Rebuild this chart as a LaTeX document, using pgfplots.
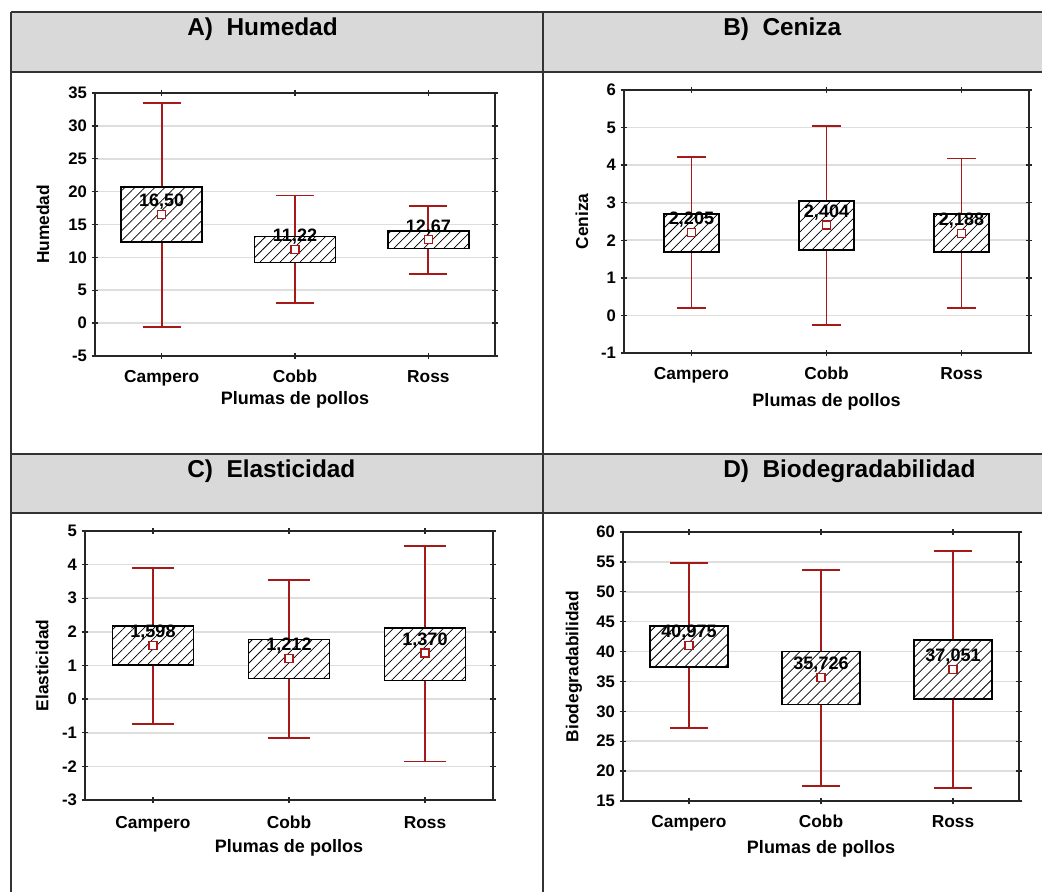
\documentclass[border=0pt]{standalone}
\usepackage{pgfplots}
\pgfplotsset{compat=1.18}
\usepackage{pgfplotstable}
\usepackage{fontspec}
\setmainfont{Liberation Sans}
\usetikzlibrary{patterns.meta}
\definecolor{whisk}{RGB}{165,25,25}
\definecolor{headgray}{RGB}{217,217,217}
\definecolor{gridgray}{RGB}{222,222,222}

% means and labels
\pgfplotstableread{
x mean label
0 16.50 16,50
1 11.22 11,22
2 12.67 12,67
}\dataA
\pgfplotstableread{
x mean label
0 2.205 2,205
1 2.404 2,404
2 2.188 2,188
}\dataB
\pgfplotstableread{
x mean label
0 1.598 1,598
1 1.212 1,212
2 1.370 1,370
}\dataC
\pgfplotstableread{
x mean label
0 40.975 40,975
1 35.726 35,726
2 37.051 37,051
}\dataD

\pgfplotsset{
  panel/.style={
    scale only axis,
    anchor=south west,
    xmin=-0.5, xmax=2.5,
    xtick={0,1,2},
    xticklabels={Campero,Cobb,Ross},
    ymajorgrids,
    grid style={gridgray, line width=1.2pt},
    axis line style={black!85, line width=1.4pt},
    tick style={black!85, line width=1pt},
    major tick length=5pt,
    tick align=center,
    /pgf/number format/assume math mode=true,
    yticklabel style={font=\fontsize{12.5}{14}\selectfont\bfseries, text=black},
    xticklabel style={font=\fontsize{13}{15}\selectfont\bfseries, text=black, anchor=base, yshift=-17.3pt},
    ylabel style={font=\fontsize{13}{15}\selectfont\bfseries, text=black, anchor=center},
    xlabel style={font=\fontsize{13.5}{15}\selectfont\bfseries, text=black, anchor=center},
    xlabel={Plumas de pollos},
  },
  boxst/.style={draw=black, line width=1.2pt, fill=white,
    postaction={pattern={Lines[angle=45,distance=5.3pt,line width=0.55pt]}, pattern color=black}},
  whst/.style={draw=whisk, line width=1.4pt, mark=none},
}
% whisker: cap-left, x, cap-right, low, high
\newcommand{\wh}[5]{%
  \addplot[whst] coordinates {(#2,#4) (#2,#5)};
  \addplot[whst] coordinates {(#1,#5) (#3,#5)};
  \addplot[whst] coordinates {(#1,#4) (#3,#4)};}
\newcommand{\means}[1]{%
  \addplot[only marks, mark=square*, mark size=3pt,
    mark options={draw=whisk, fill=white, line width=0.9pt},
    nodes near coords, point meta=explicit symbolic,
    every node near coord/.append style={font=\fontsize{13.5}{15}\selectfont\bfseries,
      text=black, anchor=center, yshift=9.5pt}]
    table[x=x, y=mean, meta=label] {#1};}
\newcommand{\boxat}[4]{\addplot[boxst] coordinates {(#1,#3) (#2,#3) (#2,#4) (#1,#4)} -- cycle;}

\begin{document}
\begin{tikzpicture}
\useasboundingbox (0,0) rectangle (781.5pt,669pt);
\begin{scope}[x=0.75pt, y=0.75pt]
% table frame
\fill[headgray] (11,880) rectangle (1042,820);
\fill[headgray] (11,438) rectangle (1042,379);
\begin{scope}[draw=black!80, line width=1.5pt]
\draw (11,880) -- (1042,880);
\draw (11,820) -- (1042,820);
\draw (11,438) -- (1042,438);
\draw (11,379) -- (1042,379);
\draw (11,880) -- (11,0);
\draw (543,880) -- (543,0);
\end{scope}
\begin{scope}[font=\fontsize{18.3}{21}\selectfont\bfseries]
\node[anchor=west, inner sep=0pt] at (187,863) {A)~~Humedad};
\node[anchor=west, inner sep=0pt] at (723,863) {B)~~Ceniza};
\node[anchor=west, inner sep=0pt] at (187,421) {C)~~Elasticidad};
\node[anchor=west, inner sep=0pt] at (723,421) {D)~~Biodegradabilidad};
\end{scope}
\end{scope}

% A
\begin{axis}[panel, at={(71.25pt,402pt)}, width=300pt, height=197.25pt,
  ymin=-5, ymax=35, ytick={-5,0,...,35},
  ylabel={Humedad},
  ylabel style={at={(axis description cs:-0.130,0.5)}},
  xlabel style={at={(axis description cs:0.5,-0.167)}}]
\wh{-0.1425}{0}{0.1425}{-0.57}{33.42}
\wh{0.8575}{1}{1.1425}{3.05}{19.41}
\wh{1.8575}{2}{2.1425}{7.43}{17.83}
\boxat{-0.304}{0.304}{12.38}{20.68}
\boxat{0.696}{1.304}{9.22}{13.19}
\boxat{1.696}{2.304}{11.36}{14.01}
\means{\dataA}
\end{axis}

% B
\begin{axis}[panel, at={(468pt,404.25pt)}, width=303.75pt, height=197.25pt,
  ymin=-1, ymax=6, ytick={-1,0,...,6},
  ylabel={Ceniza},
  ylabel style={at={(axis description cs:-0.104,0.5)}},
  xlabel style={at={(axis description cs:0.5,-0.186)}}]
\wh{-0.104}{0}{0.104}{0.205}{4.228}
\wh{0.896}{1}{1.104}{-0.247}{5.034}
\wh{1.896}{2}{2.104}{0.205}{4.175}
\boxat{-0.204}{0.204}{1.694}{2.695}
\boxat{0.796}{1.204}{1.738}{3.049}
\boxat{1.796}{2.204}{1.694}{2.695}
\means{\dataB}
\end{axis}

% C
\begin{axis}[panel, at={(63.75pt,69pt)}, width=306pt, height=201.75pt,
  ymin=-3, ymax=5, ytick={-3,-2,...,5},
  ylabel={Elasticidad},
  ylabel style={at={(axis description cs:-0.105,0.5)}},
  xlabel style={at={(axis description cs:0.5,-0.178)}},
  xticklabel style={yshift=-1.5pt}]
\wh{-0.154}{0}{0.154}{-0.747}{3.892}
\wh{0.846}{1}{1.154}{-1.152}{3.536}
\wh{1.846}{2}{2.154}{-1.855}{4.545}
\boxat{-0.298}{0.298}{1.014}{2.181}
\boxat{0.702}{1.298}{0.608}{1.776}
\boxat{1.702}{2.298}{0.559}{2.122}
\means{\dataC}
\end{axis}

% D
\begin{axis}[panel, at={(467.25pt,68.25pt)}, width=297pt, height=201.75pt,
  ymin=15, ymax=60, ytick={15,20,...,60},
  ylabel={Biodegradabilidad},
  ylabel style={at={(axis description cs:-0.124,0.5)}},
  xlabel style={at={(axis description cs:0.5,-0.178)}}]
\wh{-0.144}{0}{0.144}{27.23}{54.81}
\wh{0.856}{1}{1.144}{17.57}{53.69}
\wh{1.856}{2}{2.144}{17.23}{56.87}
\boxat{-0.295}{0.295}{37.44}{44.25}
\boxat{0.705}{1.295}{31.13}{40.01}
\boxat{1.705}{2.295}{32.08}{41.97}
\means{\dataD}
\end{axis}
\end{tikzpicture}
\end{document}
